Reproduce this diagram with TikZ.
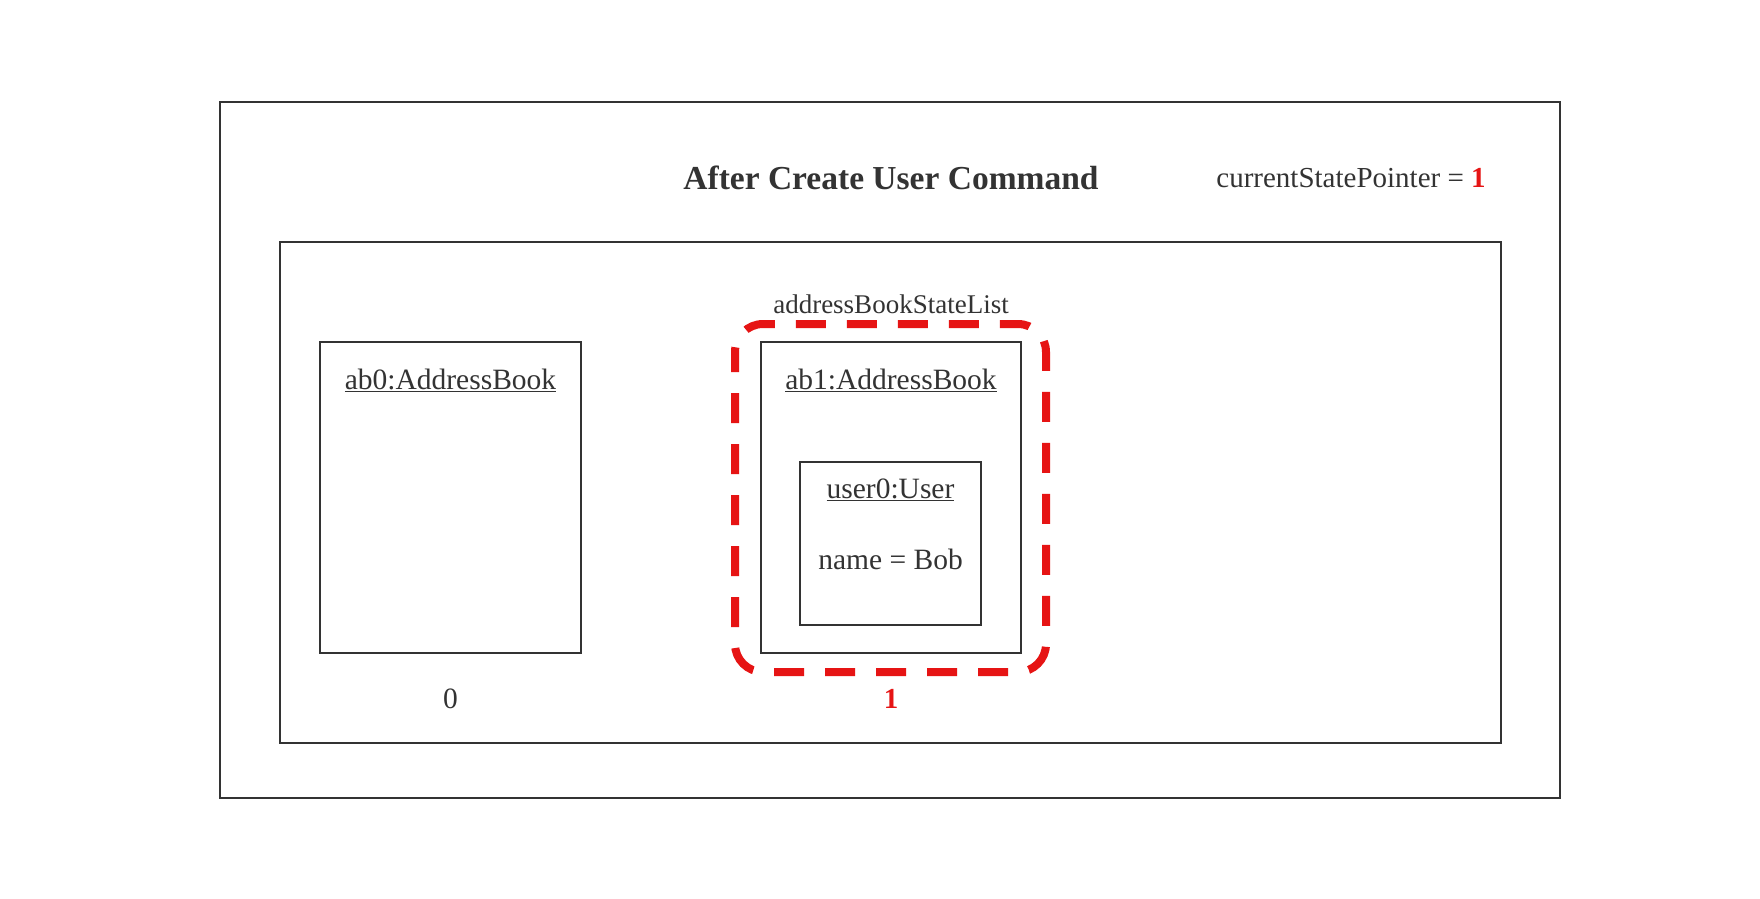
\documentclass[tikz,border=0pt]{standalone}
\usepackage{fontspec}
\setmainfont{Liberation Serif}
\definecolor{txt}{HTML}{333333}
\definecolor{myred}{HTML}{E61414}
\begin{document}
\begin{tikzpicture}[x=1pt,y=-1pt,
  box/.style={draw=txt,line width=2pt,rectangle,inner sep=0pt},
  lbl/.style={text=txt,font=\fontsize{29.5}{33}\selectfont,inner sep=0pt},
  sel/.style={draw=myred,line width=8pt,rounded corners=28pt,dash pattern=on 30pt off 21pt,dash phase=10pt}]
\useasboundingbox (0,0) rectangle (1760,898);
\fill[white] (0,0) rectangle (1760,898);
\node[box,minimum width=1340pt,minimum height=696pt] (outer) at (890,450) {};
\node[box,minimum width=1221pt,minimum height=501pt] (inner) at (890.5,492.5) {};
\node[text=txt,font=\bfseries\fontsize{33.5}{38}\selectfont,inner sep=0pt] (title) at (891,178) {After Create User Command};
\node[lbl,font=\fontsize{29}{33}\selectfont] (csp) at (1351,178) {currentStatePointer = \textcolor{myred}{\bfseries 1}};
\node[box,minimum width=261pt,minimum height=311pt] (ab0) at (450.5,497.5) {};
\node[box,minimum width=260pt,minimum height=311pt] (ab1) at (891,497.5) {};
\node[box,minimum width=181pt,minimum height=163pt] (u0) at (890.5,543.5) {};
\draw[sel] (735,324) rectangle (1046,672);
\node[lbl,font=\fontsize{27}{30}\selectfont] (absl) at (891,304) {addressBookStateList};
\node[lbl] (ab0t) at (450.5,380) {\underline{ab0:AddressBook}};
\node[lbl] (ab1t) at (891,380) {\underline{ab1:AddressBook}};
\node[lbl] (u0t) at (890.5,490) {\underline{user0:User}};
\node[lbl] (u0n) at (890.5,559) {name = Bob};
\node[lbl] (i0) at (450.5,699) {0};
\node[lbl,text=myred,font=\bfseries\fontsize{29}{32}\selectfont] (i1) at (891,699) {1};
\end{tikzpicture}
\end{document}
